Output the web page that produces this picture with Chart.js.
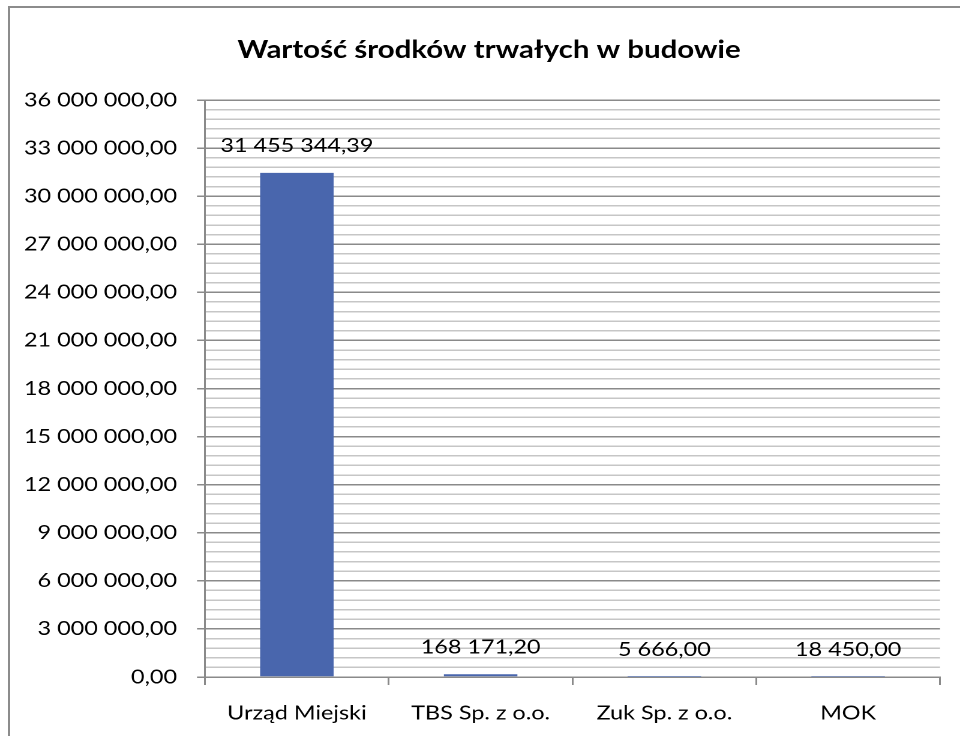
<!DOCTYPE html>
<html>
<head>
<meta charset="utf-8">
<title>Wartość środków trwałych w budowie</title>
<script src="https://cdn.jsdelivr.net/npm/chart.js@4/dist/chart.umd.min.js"></script>
<style>
  body { margin: 0; background: #fff; overflow: hidden; width: 960px; height: 736px; }
  #frame { position: absolute; left: 8px; top: 6px; width: 1000px; height: 800px; border: 2px solid #8c8c8c; }
  #chart { position: absolute; left: 0; top: 0; }
</style>
</head>
<body>
<div id="frame"></div>
<canvas id="chart" style="width:960px;height:736px"></canvas>
<script>
// dane wykresu
const categories = ['Urząd Miejski', 'TBS Sp. z o.o.', 'Zuk Sp. z o.o.', 'MOK'];
const values = [31455344.39, 168171.20, 5666.00, 18450.00];
const yMin = 0;
const yMax = 36000000;
const yMajorStep = 3000000;
const yMinorStep = 600000;

// the original picture is stretched sideways, so draw narrower and scale the canvas
const S = 1.2;
const W = Math.round(960 / S);
const FONT = 'Lato';
const TICK_SIZE = 19.5;

function fmtPL(v) {
  const parts = Math.abs(v).toFixed(2).split('.');
  return parts[0].replace(/\B(?=(\d{3})+(?!\d))/g, ' ') + ',' + parts[1];
}

const isMajor = (v) => Math.abs(v % yMajorStep) < 1;

const valueLabels = {
  id: 'valueLabels',
  afterLayout(chart) {
    // title centred on the whole chart frame, not on the canvas
    if (chart.titleBlock) chart.titleBlock.left = 978 / S - chart.titleBlock.right;
  },
  afterDatasetsDraw(chart) {
    const ctx = chart.ctx;
    const meta = chart.getDatasetMeta(0);
    ctx.save();
    ctx.font = `${TICK_SIZE}px ${FONT}`;
    ctx.fillStyle = '#000';
    ctx.textAlign = 'center';
    ctx.textBaseline = 'middle';
    meta.data.forEach((bar, i) => {
      ctx.fillText(fmtPL(values[i]), bar.x, bar.y - 27);
    });
    ctx.restore();
  }
};

const canvas = document.getElementById('chart');
canvas.width = W;
canvas.height = 736;

new Chart(canvas, {
  type: 'bar',
  data: {
    labels: categories,
    datasets: [{
      data: values,
      backgroundColor: '#4966ad',
      borderWidth: 0,
      categoryPercentage: 1,
      barPercentage: 0.4
    }]
  },
  options: {
    responsive: false,
    devicePixelRatio: 2,
    animation: false,
    layout: { padding: { left: 0, right: 20 / S, top: 0, bottom: 0 } },
    plugins: {
      legend: { display: false },
      tooltip: { enabled: false },
      title: {
        display: true,
        text: 'Wartość środków trwałych w budowie',
        color: '#000',
        font: { family: FONT, size: 24.5, weight: 'bold' },
        padding: { top: 35.3, bottom: 35.3 }
      }
    },
    scales: {
      x: {
        grid: { drawOnChartArea: false, drawTicks: true, tickLength: 8, color: '#8a8a8a', tickColor: '#8a8a8a', lineWidth: 1.5 },
        border: { color: '#8a8a8a', width: 1.5 },
        ticks: { color: '#000', font: { family: FONT, size: TICK_SIZE }, padding: 16.3, maxRotation: 0, autoSkip: false },
        afterFit(s) { s.height = 59; }
      },
      y: {
        min: yMin,
        max: yMax,
        grid: {
          color: (c) => isMajor(c.tick.value) ? '#8a8a8a' : '#c6c6c6',
          tickColor: (c) => isMajor(c.tick.value) ? '#8a8a8a' : 'rgba(0,0,0,0)',
          tickLength: 8 / S,
          lineWidth: 1.5
        },
        border: { color: '#8a8a8a', width: 1.5 },
        ticks: {
          stepSize: yMinorStep,
          autoSkip: false,
          padding: 20 / S,
          color: '#000',
          font: { family: FONT, size: TICK_SIZE },
          callback: (v) => isMajor(v) ? fmtPL(v) : ''
        },
        afterFit(s) { s.width = 205 / S; }
      }
    }
  },
  plugins: [valueLabels]
});
</script>
</body>
</html>
